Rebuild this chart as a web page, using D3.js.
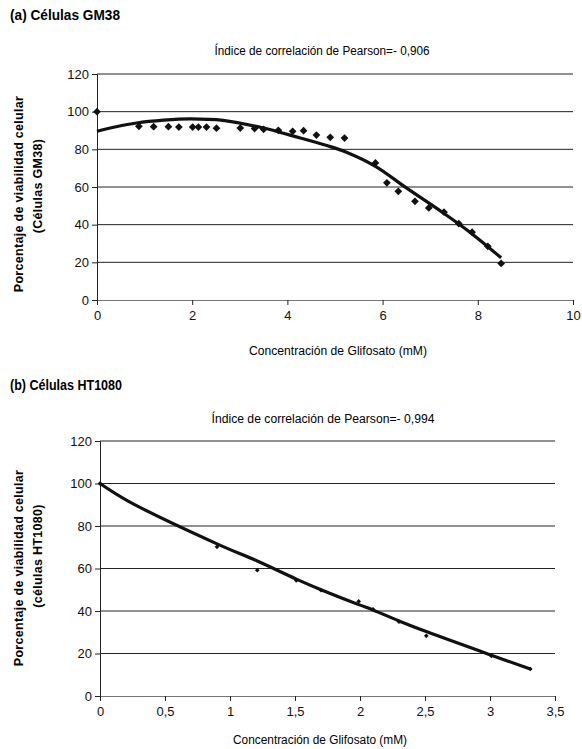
<!DOCTYPE html>
<html>
<head>
<meta charset="utf-8">
<script src="https://cdn.jsdelivr.net/npm/d3@7"></script>
<style>
  body { margin: 0; background: #fff; }
  text { font-family: "Liberation Sans", Arial, sans-serif; }
</style>
</head>
<body>
<svg id="chart" width="582" height="749"></svg>
<script>
// (a) GM38 cells: measured points and trend line
var gmX = [0, 0.88, 1.19, 1.5, 1.72, 2.01, 2.13, 2.3, 2.51, 3.01, 3.31, 3.5, 3.81, 4.11, 4.34, 4.61, 4.9, 5.2, 5.85, 6.09, 6.33, 6.68, 6.97, 7.29, 7.6, 7.88, 8.21, 8.49];
var gmY = [100, 92.2, 92, 92, 91.8, 91.8, 91.8, 91.8, 91.2, 91.3, 91, 90.6, 90.1, 89.6, 89.9, 87.6, 86.4, 86, 72.8, 62.2, 57.7, 52.4, 48.9, 46.6, 40.6, 36, 28.5, 19.4];
var gmTrendX = [0, 0.4, 0.83, 1.4, 1.95, 2.65, 3.5, 4.13, 4.83, 5.24, 5.85, 6.5, 7.27, 7.9, 8.49];
var gmTrendY = [89.6, 92, 94, 95.5, 96.2, 95.4, 91.3, 87, 82, 78.5, 71, 59.5, 46.3, 34.7, 22.4];
var gmXTicks = [0, 2, 4, 6, 8, 10];

// (b) HT1080 cells
var htX = [0, 0.9, 1.21, 1.51, 1.7, 1.99, 2.1, 2.3, 2.51, 3.01, 3.31];
var htY = [100, 70.2, 59.2, 54.4, 49.8, 44.5, 40.8, 35, 28.3, 18.9, 12.7];
var htLineX = [0, 0.22, 0.9, 1.21, 1.51, 1.7, 1.99, 2.1, 2.3, 2.51, 3.01, 3.31];
var htLineY = [100, 91.6, 71.6, 63.5, 55, 50, 43, 40.5, 35.3, 30.3, 19.2, 12.7];
var htXTicks = [0, 0.5, 1, 1.5, 2, 2.5, 3, 3.5];

var yTicks = [0, 20, 40, 60, 80, 100, 120];

var svg = d3.select("#chart");
var fmt = function(d) { return String(d).replace(".", ","); };

function panel(o) {
  var x = d3.scaleLinear().domain(o.xDomain).range([o.left, o.right]);
  var y = d3.scaleLinear().domain([0, 120]).range([o.bottom, o.top]);
  var g = svg.append("g");

  // heading and pearson text
  g.append("text")
    .attr("x", 10).attr("y", o.headY)
    .attr("textLength", o.headW).attr("lengthAdjust", "spacingAndGlyphs")
    .style("font-size", "14px").style("font-weight", "bold")
    .text(o.head);
  g.append("text")
    .attr("x", o.pearsonX).attr("y", o.pearsonY)
    .attr("text-anchor", "middle")
    .attr("textLength", o.pearsonW).attr("lengthAdjust", "spacingAndGlyphs")
    .style("font-size", "12.5px")
    .text(o.pearson);

  // grid lines
  g.selectAll(".grid").data(yTicks.filter(function(d) { return d > 0; }))
    .enter().append("line")
    .attr("x1", o.left).attr("x2", o.right)
    .attr("y1", function(d) { return y(d); })
    .attr("y2", function(d) { return y(d); })
    .attr("stroke", "#222").attr("stroke-width", 1);

  // axes
  var ya = g.append("g").attr("transform", "translate(" + o.left + ",0)")
    .call(d3.axisLeft(y).tickValues(yTicks).tickSize(5).tickPadding(3));
  var xa = g.append("g").attr("transform", "translate(0," + o.bottom + ")")
    .call(d3.axisBottom(x).tickValues(o.xTicks).tickSize(5).tickPadding(6).tickFormat(fmt));
  [ya, xa].forEach(function(a) {
    a.select(".domain").attr("stroke", "#222");
    a.selectAll(".tick line").attr("stroke", "#222");
    a.selectAll("text").style("font-size", "13px").attr("fill", "#111")
      .style("font-family", "'Liberation Sans', Arial, sans-serif");
  });
  xa.select(".domain").attr("d", "M" + o.left + ",0.5H" + o.right).attr("stroke", "#777");

  // axis titles
  g.append("text")
    .attr("x", o.xTitleX).attr("y", o.xTitleY)
    .attr("text-anchor", "middle")
    .attr("textLength", o.xTitleW).attr("lengthAdjust", "spacingAndGlyphs")
    .style("font-size", "12.5px")
    .text("Concentración de Glifosato (mM)");
  g.append("text")
    .attr("transform", "translate(23," + o.yTitleC1 + ") rotate(-90)")
    .attr("text-anchor", "middle")
    .style("font-size", "12.5px").style("font-weight", "bold").style("letter-spacing", "0.3px")
    .text("Porcentaje de viabilidad celular");
  g.append("text")
    .attr("transform", "translate(42," + o.yTitleC2 + ") rotate(-90)")
    .attr("text-anchor", "middle")
    .style("font-size", "12.5px").style("font-weight", "bold").style("letter-spacing", "0.3px")
    .text(o.yTitle2);

  // trend line
  var line = d3.line().curve(d3.curveCatmullRom)
    .x(function(d) { return x(o.lx[d]); })
    .y(function(d) { return y(o.ly[d]); });
  g.append("path").datum(d3.range(o.lx.length))
    .attr("d", line).attr("fill", "none")
    .attr("stroke", "#111").attr("stroke-width", 3.2);

  // points (diamonds = rotated squares)
  g.selectAll(".pt").data(d3.range(o.px.length)).enter().append("path")
    .attr("transform", function(i) {
      return "translate(" + x(o.px[i]) + "," + y(o.py[i]) + ") rotate(45)";
    })
    .attr("d", d3.symbol().type(d3.symbolSquare).size(o.mark))
    .attr("fill", "#111");
}

panel({
  head: "(a) Células GM38", headY: 20, headW: 110,
  pearson: "Índice de correlación de Pearson=- 0,906", pearsonX: 322, pearsonY: 55, pearsonW: 215,
  xDomain: [0, 10], xTicks: gmXTicks,
  left: 97, right: 573, top: 74, bottom: 300,
  xTitleX: 338, xTitleY: 355, xTitleW: 178,
  yTitleC1: 194, yTitleC2: 186, yTitle2: "(Células GM38)",
  px: gmX, py: gmY, lx: gmTrendX, ly: gmTrendY, mark: 30
});

panel({
  head: "(b) Células HT1080", headY: 390, headW: 112,
  pearson: "Índice de correlación de Pearson=- 0,994", pearsonX: 323, pearsonY: 423, pearsonW: 223,
  xDomain: [0, 3.5], xTicks: htXTicks,
  left: 100, right: 555, top: 441, bottom: 696,
  xTitleX: 320, xTitleY: 744, xTitleW: 174,
  yTitleC1: 568, yTitleC2: 556, yTitle2: "(células HT1080)",
  px: htX, py: htY, lx: htLineX, ly: htLineY, mark: 11
});
</script>
</body>
</html>
